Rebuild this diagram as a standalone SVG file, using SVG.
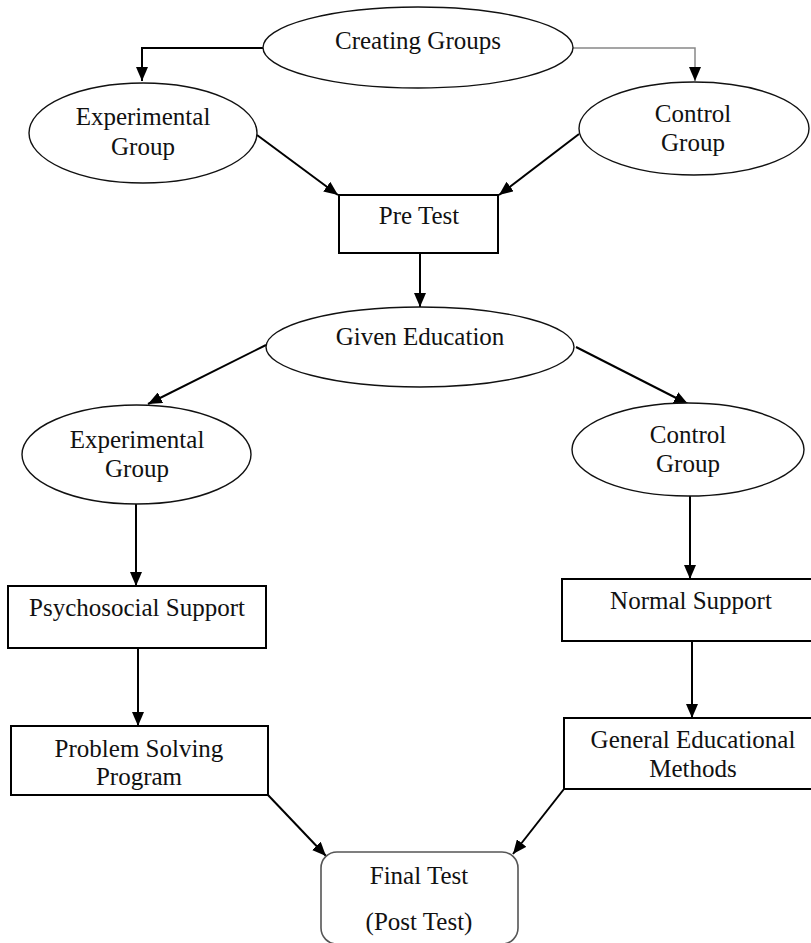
<svg xmlns="http://www.w3.org/2000/svg" width="811" height="943" viewBox="0 0 811 943">
<defs>
<marker id="ah" markerUnits="userSpaceOnUse" markerWidth="14" markerHeight="12" viewBox="0 0 14 12" refX="14" refY="6" orient="auto">
<path d="M0,0 L14,6 L0,12 Z" fill="#000"/>
</marker>
</defs>
<style>
.ell{fill:#fff;stroke:#111;stroke-width:1.4}
.box{fill:#fff;stroke:#000;stroke-width:2}
.rbox{fill:#fff;stroke:#555;stroke-width:1.6}
.t{font-family:"Liberation Serif","Times New Roman",serif;font-size:25px;fill:#111;text-anchor:middle}
.c{fill:none;stroke:#000;stroke-width:2;marker-end:url(#ah)}
.cg{fill:none;stroke:#888;stroke-width:1.5;marker-end:url(#ah)}
</style>
<rect width="811" height="943" fill="#fff"/>
<g id="connectors">
<path class="c" d="M263,48 H142 V81"/>
<path class="cg" d="M573,48 H695 V81"/>
<path class="c" d="M257,135 L338,195"/>
<path class="c" d="M579,134 L499,195"/>
<path class="c" d="M420,253 V307"/>
<path class="c" d="M266,345 L148,404"/>
<path class="c" d="M576,347 L688,404"/>
<path class="c" d="M136,504 V586"/>
<path class="c" d="M690,496 V579"/>
<path class="c" d="M138,648 V726"/>
<path class="c" d="M692,641 V718"/>
<path class="c" d="M268,795 L326,856"/>
<path class="c" d="M564,789 L513,854"/>
</g>
<g id="creating-groups">
<ellipse class="ell" cx="418" cy="47.5" rx="155" ry="40.5"/>
<text class="t" x="418" y="49">Creating Groups</text>
</g>
<g id="experimental-group-1">
<ellipse class="ell" cx="143" cy="133" rx="114" ry="50"/>
<text class="t" x="143" y="125">Experimental</text>
<text class="t" x="143" y="155">Group</text>
</g>
<g id="control-group-1">
<ellipse class="ell" cx="694" cy="128.5" rx="115" ry="46.5"/>
<text class="t" x="693" y="122">Control</text>
<text class="t" x="693" y="151">Group</text>
</g>
<g id="pre-test">
<rect class="box" x="339" y="195" width="159" height="58"/>
<text class="t" x="419" y="224">Pre Test</text>
</g>
<g id="given-education">
<ellipse class="ell" cx="420" cy="347" rx="154" ry="40"/>
<text class="t" x="420" y="345">Given Education</text>
</g>
<g id="experimental-group-2">
<ellipse class="ell" cx="136.5" cy="454.5" rx="114.5" ry="49.5"/>
<text class="t" x="137" y="448">Experimental</text>
<text class="t" x="137" y="477">Group</text>
</g>
<g id="control-group-2">
<ellipse class="ell" cx="688" cy="449.5" rx="116" ry="46.5"/>
<text class="t" x="688" y="443">Control</text>
<text class="t" x="688" y="472">Group</text>
</g>
<g id="psychosocial-support">
<rect class="box" x="8" y="586" width="258" height="62"/>
<text class="t" x="137" y="616">Psychosocial Support</text>
</g>
<g id="normal-support">
<rect class="box" x="562" y="579" width="260" height="62"/>
<text class="t" x="691" y="609">Normal Support</text>
</g>
<g id="problem-solving-program">
<rect class="box" x="11" y="726" width="257" height="69"/>
<text class="t" x="139" y="757">Problem Solving</text>
<text class="t" x="139" y="785">Program</text>
</g>
<g id="general-educational-methods">
<rect class="box" x="564" y="718" width="258" height="71"/>
<text class="t" x="693" y="748">General Educational</text>
<text class="t" x="693" y="777">Methods</text>
</g>
<g id="final-test">
<rect class="rbox" x="321" y="852" width="197" height="92" rx="16" ry="16"/>
<text class="t" x="419" y="884">Final Test</text>
<text class="t" x="419" y="930">(Post Test)</text>
</g>
</svg>
